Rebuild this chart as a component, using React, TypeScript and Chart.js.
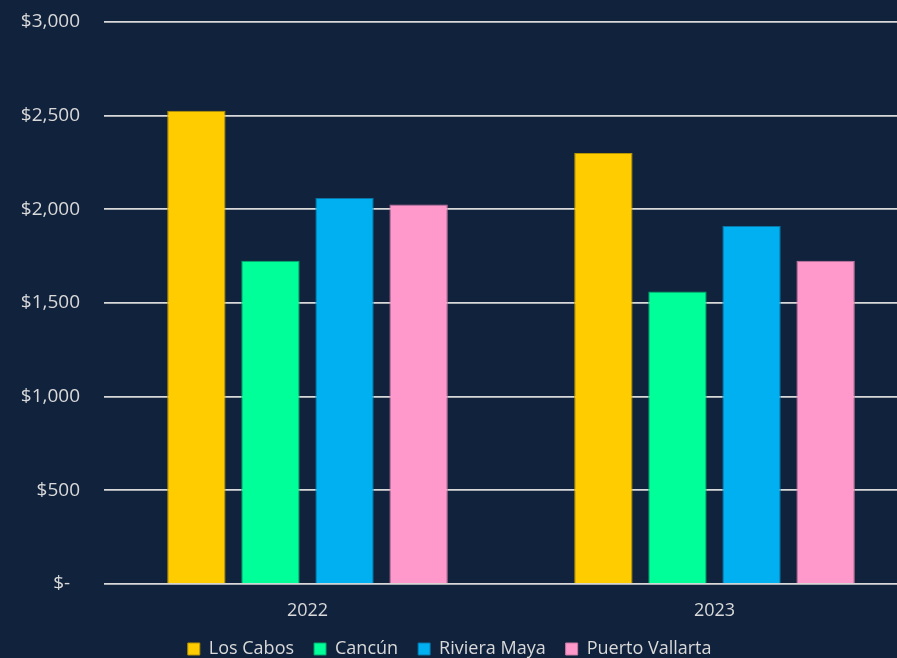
import React, { useEffect, useRef } from "react";
import { Chart, registerables } from "chart.js";

Chart.register(...registerables);

const categories = ["2022", "2023"];
const losCabos = [2525, 2300];
const cancun = [1725, 1560];
const rivieraMaya = [2060, 1910];
const puertoVallarta = [2025, 1725];
const yTicks = [0, 500, 1000, 1500, 2000, 2500, 3000];

const BG = "#11223D";
const TEXT = "#D9D9D9";
const FONT = "'Open Sans', 'Noto Sans', sans-serif";

export default function App() {
  const ref = useRef<HTMLCanvasElement | null>(null);

  useEffect(() => {
    if (!ref.current) return;
    const chart = new Chart(ref.current, {
      type: "bar",
      data: {
        labels: categories,
        datasets: [
          { label: "Los Cabos", data: losCabos, backgroundColor: "#FFCC00", borderColor: "#B89600", borderWidth: 1 },
          { label: "Cancún", data: cancun, backgroundColor: "#00FF99", borderColor: "#00A86B", borderWidth: 1 },
          { label: "Riviera Maya", data: rivieraMaya, backgroundColor: "#00B0F0", borderColor: "#0877A8", borderWidth: 1 },
          { label: "Puerto Vallarta", data: puertoVallarta, backgroundColor: "#FF99CC", borderColor: "#C87AA0", borderWidth: 1 },
        ],
      },
      options: {
        responsive: false,
        animation: false,
        devicePixelRatio: 1,
        layout: { padding: { top: 21.7, left: 0, right: 0, bottom: 0 } },
        datasets: {
          bar: { categoryPercentage: 0.728, barPercentage: 0.788 },
        },
        plugins: {
          tooltip: { enabled: false },
          legend: {
            position: "bottom",
            labels: {
              color: TEXT,
              font: { family: FONT, size: 18 },
              boxWidth: 12,
              boxHeight: 12,
              padding: 20,
              generateLabels: (c: any) => {
                const items = Chart.defaults.plugins.legend.labels.generateLabels(c);
                const last = items[items.length - 1];
                if (last) last.text = last.text + "    ";
                return items;
              },
            },
          },
        },
        scales: {
          x: {
            grid: { display: false, drawTicks: false },
            border: { display: false },
            ticks: { color: TEXT, font: { family: FONT, size: 18, lineHeight: 1 }, padding: 18 },
            afterFit: (s: any) => {
              s.height = 36;
            },
          },
          y: {
            min: 0,
            max: 3000,
            afterBuildTicks: (s: any) => {
              s.ticks = yTicks.map((v) => ({ value: v }));
            },
            grid: { color: "#D9D9D9", lineWidth: 1.7, drawTicks: false },
            border: { display: false },
            ticks: {
              color: TEXT,
              font: { family: FONT, size: 19 },
              padding: 24,
              callback: (v: any) => (Number(v) === 0 ? "$-  " : "$" + Number(v).toLocaleString("en-US")),
            },
            afterFit: (s: any) => {
              s.width = 104;
              s.paddingTop = 0;
              s.paddingBottom = 0;
            },
          },
        },
      },
    });
    return () => chart.destroy();
  }, []);

  return (
    <div
      style={{
        position: "fixed",
        left: 0,
        top: 0,
        width: 897,
        height: 658,
        overflow: "hidden",
        background: BG,
      }}
    >
      <canvas ref={ref} width={918} height={668} style={{ width: 918, height: 668, display: "block" }} />
    </div>
  );
}
